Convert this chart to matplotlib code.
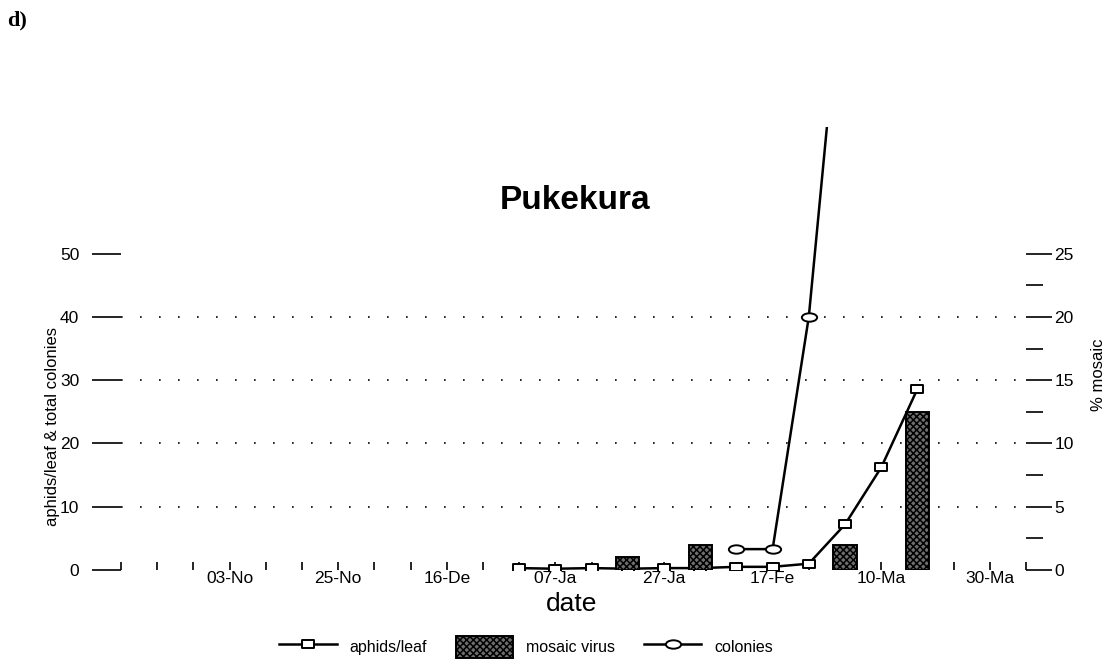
import numpy as np
import matplotlib
matplotlib.use("Agg")
import matplotlib.pyplot as plt
from matplotlib.path import Path
from matplotlib.patches import Patch
from matplotlib.lines import Line2D

plt.rcParams['font.family'] = ['Liberation Sans', 'DejaVu Sans']
plt.rcParams['hatch.linewidth'] = 1.1

# category slots on the x axis (0 = left axis, 25 = right axis)
n_slots = 26
sample_slots = list(range(11, 23))

# series, one value per sampled slot
aphids = [0.3, 0.2, 0.3, 0.2, 0.3, 0.3, 0.5, 0.5, 1.0, 7.2, 16.2, 28.6]
mosaic = [0, 0, 0, 1.0, 0, 2.0, 0, 0, 0, 2.0, 0, 12.5]
colonies = [np.nan] * 6 + [3.3, 3.3, 40, 100, np.nan, np.nan]

# tick labels
date_labels = ['03-No', '25-No', '16-De', '07-Ja', '27-Ja', '17-Fe', '10-Ma', '30-Ma']
label_slots = [3, 6, 9, 12, 15, 18, 21, 24]
left_ticks = [0, 10, 20, 30, 40, 50]
right_ticks = [0, 5, 10, 15, 20, 25]
right_minor = [2.5, 7.5, 12.5, 17.5, 22.5]

# marker shapes
rect_marker = Path([(-1, -0.6), (1, -0.6), (1, 0.6), (-1, 0.6), (-1, -0.6)],
                   [Path.MOVETO, Path.LINETO, Path.LINETO, Path.LINETO, Path.CLOSEPOLY])
circ = Path.unit_circle()
ellipse_marker = Path(circ.vertices * np.array([1.0, 0.55]), circ.codes)

bar_face = '#6e6e6e'

fig = plt.figure(figsize=(11.18, 6.64), dpi=100)
ax = fig.add_axes([121 / 1118, 94 / 664, 905 / 1118, 443 / 664])
ax2 = ax.twinx()

# lines on the left axis
ax.plot(sample_slots, aphids, color='black', lw=1.8, marker=rect_marker,
        markersize=9, markerfacecolor='white', markeredgecolor='black',
        markeredgewidth=1.4, zorder=3)
ax.plot(sample_slots, colonies, color='black', lw=1.8, marker=ellipse_marker,
        markersize=11, markerfacecolor='white', markeredgecolor='black',
        markeredgewidth=1.4, zorder=3)

# bars on the right axis
bar_x = [s for s, m in zip(sample_slots, mosaic) if m > 0]
bar_h = [m for m in mosaic if m > 0]
ax2.bar(bar_x, bar_h, width=0.64, facecolor=bar_face, edgecolor='black',
        hatch='xxxxx', linewidth=1.4)

ax.set_xlim(0, n_slots - 1)
ax.set_ylim(0, 70)
ax2.set_ylim(0, 35)

for a in (ax, ax2):
    for sp in a.spines.values():
        sp.set_visible(False)

# x axis
ax.set_xticks(label_slots)
ax.set_xticklabels(date_labels)
ax.set_xticks(range(n_slots), minor=True)
ax.tick_params(axis='x', which='both', direction='in', length=6, width=1.2,
               pad=1, labelsize=12.5)

# left axis
ax.set_yticks(left_ticks)
ax.tick_params(axis='y', direction='out', length=21, width=1.2, pad=9,
               labelsize=12.5)
ax.grid(axis='y', linestyle=(0, (1, 10.4)), linewidth=1.2, color='black')
gl = ax.get_ygridlines()
gl[0].set_visible(False)
gl[-1].set_visible(False)

# right axis
ax2.set_yticks(right_ticks)
ax2.set_yticks(right_minor, minor=True)
ax2.tick_params(axis='y', which='major', direction='out', length=19, width=1.2,
                pad=1.5, labelsize=12.5)
ax2.tick_params(axis='y', which='minor', direction='out', length=12, width=1.2)

ax.set_ylabel('aphids/leaf & total colonies', fontsize=12)
ax.yaxis.set_label_coords(-0.067, 0.325)
ax2.set_ylabel('% mosaic', fontsize=12)
ax2.yaxis.set_label_coords(1.072, 0.44)
ax.set_xlabel('date', fontsize=19)
ax.xaxis.set_label_coords(0.498, -0.05)

ax.text(0.502, 0.835, 'Pukekura', transform=ax.transAxes, ha='center',
        va='center', fontsize=24, fontweight='bold')
fig.text(7 / 1118, 1 - 10 / 664, 'd)', ha='left', va='top', fontsize=16,
         fontweight='bold', family='Liberation Serif')

handles = [
    Line2D([], [], color='black', lw=1.8, marker=rect_marker, markersize=9,
           markerfacecolor='white', markeredgecolor='black', markeredgewidth=1.4),
    Patch(facecolor=bar_face, edgecolor='black', hatch='xxxxx', linewidth=1.4),
    Line2D([], [], color='black', lw=1.8, marker=ellipse_marker, markersize=11,
           markerfacecolor='white', markeredgecolor='black', markeredgewidth=1.4),
]
fig.legend(handles, ['aphids/leaf', 'mosaic virus', 'colonies'], loc='center',
           bbox_to_anchor=(526 / 1118, 1 - 647 / 664), ncol=3, frameon=False,
           fontsize=11.5, handlelength=3.6, handleheight=1.75,
           handletextpad=0.8, columnspacing=1.8, borderpad=0)

fig.savefig('out.png', dpi=100)
